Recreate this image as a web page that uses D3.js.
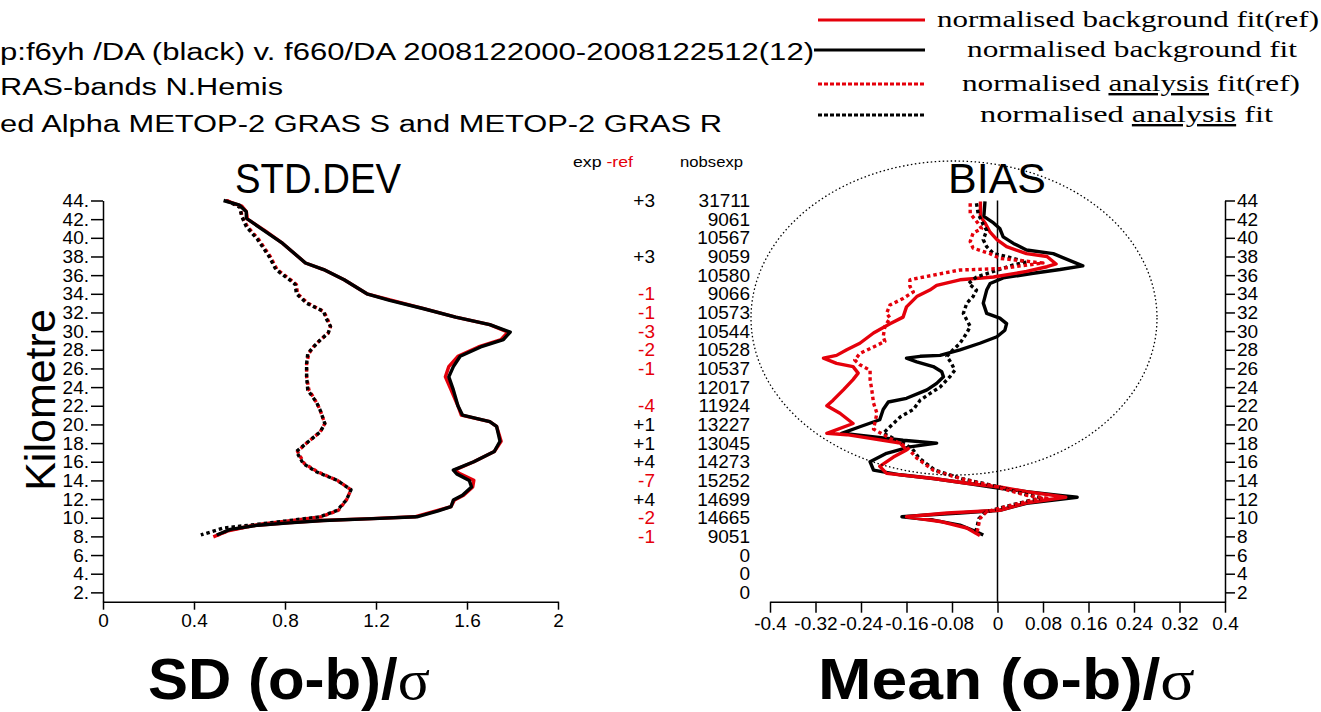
<!DOCTYPE html>
<html><head><meta charset="utf-8">
<script src="https://cdn.jsdelivr.net/npm/d3@7"></script>
<style>
html,body{margin:0;padding:0;background:#fff;overflow:hidden;}
svg{display:block;}
.ax .tick text{font-family:"Liberation Sans Narrow","Liberation Sans",Arial,sans-serif;font-size:19px;fill:#000;}
.ax .tick line,.ax .domain{stroke:#000;stroke-width:1.5px;}
</style></head><body>
<svg id="c" width="1321" height="712"></svg>
<script>
// ---------------- data ----------------
const kmTicks = [2,4,6,8,10,12,14,16,18,20,22,24,26,28,30,32,34,36,38,40,42,44];
const sdTicks = [0,0.4,0.8,1.2,1.6,2];
const biasTicks = [-0.4,-0.32,-0.24,-0.16,-0.08,0,0.08,0.16,0.24,0.32,0.4];

// [value, km]
const sdBgExp = [[0.53,44.0],[0.60,43.5],[0.63,42.8],[0.63,42.1],[0.70,40.9],[0.79,39.4],[0.89,37.3],[0.97,36.6],[1.06,35.5],[1.16,34.0],[1.26,33.3],[1.41,32.4],[1.55,31.5],[1.70,30.7],[1.79,29.9],[1.76,29.1],[1.66,28.3],[1.57,27.3],[1.54,26.2],[1.52,25.1],[1.54,23.7],[1.56,22.0],[1.58,21.0],[1.70,20.3],[1.73,19.8],[1.745,18.2],[1.72,17.1],[1.63,16.0],[1.54,15.1],[1.555,14.7],[1.61,14.0],[1.62,13.3],[1.58,12.4],[1.54,11.9],[1.53,11.2],[1.47,10.7],[1.38,10.1],[1.19,9.9],[0.97,9.7],[0.82,9.45],[0.68,9.2],[0.56,8.75],[0.50,8.15]];
const sdBgRef = [[0.54,44.0],[0.61,43.4],[0.63,42.8],[0.635,42.0],[0.71,40.8],[0.79,39.4],[0.89,37.3],[0.97,36.6],[1.06,35.5],[1.16,34.0],[1.27,33.3],[1.41,32.4],[1.55,31.5],[1.70,30.7],[1.78,29.9],[1.75,29.1],[1.65,28.3],[1.56,27.3],[1.52,26.2],[1.505,25.1],[1.53,23.7],[1.56,22.0],[1.575,21.0],[1.70,20.3],[1.73,19.8],[1.75,18.2],[1.72,17.1],[1.63,16.0],[1.545,15.1],[1.57,14.7],[1.63,14.0],[1.625,13.3],[1.585,12.4],[1.545,11.9],[1.53,11.2],[1.46,10.7],[1.37,10.1],[1.18,9.9],[0.96,9.7],[0.81,9.45],[0.66,9.15],[0.55,8.6],[0.485,7.95]];
const sdAnExp = [[0.54,44.0],[0.60,43.3],[0.61,42.3],[0.63,41.2],[0.68,39.8],[0.73,38.0],[0.76,36.6],[0.82,35.5],[0.845,35.0],[0.85,34.0],[0.895,33.0],[0.97,32.1],[0.98,31.4],[1.00,30.5],[0.99,29.8],[0.955,29.05],[0.925,28.3],[0.90,27.6],[0.895,26.5],[0.895,25.1],[0.90,23.7],[0.94,22.3],[0.955,21.5],[0.975,20.1],[0.955,19.2],[0.895,18.0],[0.85,17.1],[0.88,15.8],[0.94,14.9],[1.03,14.0],[1.09,13.0],[1.07,11.9],[1.03,10.8],[0.955,10.1],[0.82,9.7],[0.68,9.3],[0.53,8.9],[0.43,8.15]];
const sdAnRef = [[0.545,44.0],[0.605,43.3],[0.61,42.3],[0.635,41.2],[0.685,39.8],[0.735,38.0],[0.765,36.6],[0.825,35.5],[0.85,35.0],[0.855,34.0],[0.90,33.0],[0.97,32.1],[0.985,31.4],[1.00,30.5],[0.99,29.8],[0.955,29.05],[0.925,28.3],[0.905,27.6],[0.895,26.5],[0.895,25.1],[0.905,23.7],[0.94,22.3],[0.955,21.5],[0.975,20.1],[0.955,19.2],[0.895,18.0],[0.855,17.1],[0.885,15.8],[0.945,14.9],[1.03,14.0],[1.09,13.0],[1.07,11.9],[1.035,10.8],[0.96,10.1],[0.83,9.7],[0.69,9.3],[0.56,8.7],[0.49,8.0]];

const biasBgExp = [[-0.022,43.9],[-0.024,42.3],[-0.007,41.6],[0.004,41.0],[0.010,40.1],[0.028,39.4],[0.051,38.7],[0.098,38.3],[0.150,37.0],[0.110,36.6],[0.063,36.2],[0.010,35.7],[-0.013,35.1],[-0.019,34.4],[-0.025,33.0],[-0.019,31.9],[0.004,31.4],[0.016,30.8],[0.013,30.1],[-0.001,29.4],[-0.031,28.7],[-0.066,28.0],[-0.101,27.4],[-0.136,27.3],[-0.160,27.1],[-0.142,26.7],[-0.113,26.2],[-0.098,25.65],[-0.095,25.1],[-0.107,24.4],[-0.124,23.7],[-0.160,22.8],[-0.192,22.4],[-0.201,21.6],[-0.207,20.5],[-0.242,19.75],[-0.274,19.05],[-0.224,18.7],[-0.166,18.3],[-0.107,18.0],[-0.154,17.6],[-0.195,16.9],[-0.224,16.0],[-0.218,15.1],[-0.171,14.6],[-0.113,14.2],[-0.054,13.7],[0.004,13.15],[0.051,12.8],[0.110,12.4],[0.140,12.2],[0.051,11.55],[0.004,10.8],[-0.066,10.5],[-0.124,10.3],[-0.168,10.1],[-0.113,9.75],[-0.066,9.2],[-0.037,8.5],[-0.025,8.15]];
const biasBgRef = [[-0.030,43.9],[-0.030,42.3],[-0.022,41.6],[-0.013,40.6],[-0.001,39.8],[0.016,39.05],[0.051,38.3],[0.087,38.0],[0.103,37.2],[0.087,36.9],[0.051,36.4],[-0.007,35.8],[-0.066,35.5],[-0.107,34.9],[-0.119,34.4],[-0.142,33.7],[-0.160,32.6],[-0.166,31.5],[-0.189,30.8],[-0.218,29.8],[-0.242,28.7],[-0.265,28.0],[-0.283,27.4],[-0.306,27.1],[-0.283,26.55],[-0.254,26.2],[-0.245,25.5],[-0.254,24.8],[-0.271,23.7],[-0.289,22.6],[-0.300,22.0],[-0.277,21.2],[-0.254,20.1],[-0.300,19.05],[-0.265,18.9],[-0.171,18.0],[-0.160,17.25],[-0.183,16.5],[-0.207,15.5],[-0.195,14.75],[-0.113,14.2],[-0.054,13.7],[0.004,13.3],[0.051,12.8],[0.098,12.4],[0.120,12.2],[0.051,11.6],[0.004,10.8],[-0.089,10.5],[-0.160,10.1],[-0.101,9.6],[-0.054,8.9],[-0.031,8.1]];
const biasAnRef = [[-0.048,43.7],[-0.048,42.6],[-0.034,41.55],[-0.028,41.0],[-0.043,40.5],[-0.048,39.6],[-0.043,38.9],[-0.013,38.3],[0.004,37.8],[0.080,37.3],[0.004,36.7],[-0.066,36.55],[-0.113,36.0],[-0.154,35.5],[-0.154,34.8],[-0.148,34.2],[-0.166,33.5],[-0.189,32.8],[-0.195,31.9],[-0.189,31.4],[-0.198,30.5],[-0.201,29.4],[-0.198,28.9],[-0.218,28.3],[-0.242,27.6],[-0.251,26.9],[-0.242,26.4],[-0.224,25.8],[-0.224,24.8],[-0.221,23.7],[-0.218,22.3],[-0.212,21.2],[-0.218,19.5],[-0.195,18.7],[-0.160,17.6],[-0.142,16.4],[-0.113,15.1],[-0.066,14.2],[-0.007,13.4],[0.051,12.4],[0.087,12.1],[0.063,11.9],[0.016,11.2],[-0.019,10.65],[-0.031,9.9],[-0.034,9.0],[-0.037,8.15]];
const biasAnExp = [[-0.037,43.7],[-0.034,42.6],[-0.025,41.4],[-0.019,40.8],[-0.025,39.8],[-0.019,39.05],[-0.007,38.3],[0.016,38.0],[0.051,37.4],[0.028,37.1],[-0.007,36.4],[-0.037,35.8],[-0.051,35.1],[-0.037,34.4],[-0.043,33.7],[-0.054,33.0],[-0.060,31.9],[-0.054,31.2],[-0.048,30.5],[-0.054,29.8],[-0.066,28.7],[-0.078,28.0],[-0.089,27.3],[-0.081,26.55],[-0.075,25.8],[-0.084,25.1],[-0.101,24.0],[-0.119,23.3],[-0.136,22.6],[-0.148,21.6],[-0.171,20.8],[-0.189,19.75],[-0.201,19.05],[-0.166,18.0],[-0.150,17.4],[-0.138,16.4],[-0.110,15.1],[-0.063,14.2],[-0.005,13.4],[0.050,12.5],[0.080,12.1],[0.060,11.9],[0.014,11.2],[-0.021,10.6],[-0.033,9.9],[-0.036,9.0],[-0.040,8.2]];

const rowKm = [44,42,40,38,36,34,32,30,28,26,24,22,20,18,16,14,12,10,8,6,4,2];
const nobsExp = [31711,9061,10567,9059,10580,9066,10573,10544,10528,10537,12017,11924,13227,13045,14273,15252,14699,14665,9051,0,0,0];
const expMinusRef = ["+3","","","+3","","-1","-1","-3","-2","-1","","-4","+1","+1","+4","-7","+4","-2","-1","","",""];

const legendLabels = ["normalised background fit(ref)","normalised background fit","normalised analysis fit(ref)","normalised analysis fit"];
const headerLines = ["p:f6yh /DA (black)  v. f660/DA 2008122000-2008122512(12)","RAS-bands  N.Hemis","ed Alpha METOP-2 GRAS S and METOP-2 GRAS R"];

// ---------------- drawing ----------------
const RED = "#e5000b";
const svg = d3.select("#c");
const sans = "'Liberation Sans',Arial,Helvetica,sans-serif";
const narrow = "'Liberation Sans Narrow','Liberation Sans',Arial,sans-serif";
const serif = "'Liberation Serif','Times New Roman',serif";

const yKm = d3.scaleLinear().domain([1,44]).range([601.7,200.5]);
const xSD = d3.scaleLinear().domain([0,2]).range([103,558]);
const xB = d3.scaleLinear().domain([-0.4,0.4]).range([770,1225]);

// header text
const hdr = [{x:0,y:60,w:814},{x:0,y:95,w:283},{x:0,y:132,w:722}];
headerLines.forEach((t,i)=>{
  svg.append("text").attr("x",hdr[i].x).attr("y",hdr[i].y)
    .attr("font-family",sans).attr("font-size",23)
    .attr("textLength",hdr[i].w).attr("lengthAdjust","spacingAndGlyphs").text(t);
});

// legend
const lg = [{y:20,c:RED,dash:null,tx:937,tw:382},{y:50,c:"#000",dash:null,tx:967,tw:330},{y:84,c:RED,dash:"4,2",tx:962,tw:338},{y:115,c:"#000",dash:"4,2",tx:980,tw:293}];
legendLabels.forEach((t,i)=>{
  const L = lg[i];
  const ln = svg.append("line").attr("x1",i===1?814:818).attr("x2",925).attr("y1",L.y).attr("y2",L.y)
    .attr("stroke",L.c).attr("stroke-width",3.2);
  if (L.dash) ln.attr("stroke-dasharray",L.dash);
  const tx = svg.append("text").attr("x",L.tx).attr("y",L.y+7)
    .attr("font-family",serif).attr("font-size",24)
    .attr("textLength",L.tw).attr("lengthAdjust","spacingAndGlyphs");
  if (t.indexOf("analysis")>=0){
    const parts = t.split("analysis");
    tx.append("tspan").text(parts[0]);
    tx.append("tspan").attr("text-decoration","underline").text("analysis");
    tx.append("tspan").text(parts[1]);
  } else tx.text(t);
});

// ---- left panel: STD.DEV ----
svg.append("g").attr("class","ax").attr("transform","translate(103,0)")
  .call(d3.axisLeft(yKm).tickValues(kmTicks).tickFormat(d=>d+".").tickSize(12).tickPadding(2).tickSizeOuter(0));
svg.append("g").attr("class","ax").attr("transform","translate(0,601.7)")
  .call(d3.axisBottom(xSD).tickValues(sdTicks).tickFormat(d=>String(d)).tickSize(8).tickPadding(4).tickSizeOuter(0));

const lineSD = d3.line().x(d=>xSD(d[0])).y(d=>yKm(d[1]));
function drawSeries(data, gen, color, dotted){
  const p = svg.append("path").datum(data).attr("d",gen).attr("fill","none")
    .attr("stroke",color).attr("stroke-width",3.4).attr("stroke-linejoin","round");
  if (dotted) p.attr("stroke-dasharray","3.5,3");
}
drawSeries(sdAnRef, lineSD, RED, true);
drawSeries(sdAnExp, lineSD, "#000", true);
drawSeries(sdBgRef, lineSD, RED, false);
drawSeries(sdBgExp, lineSD, "#000", false);

svg.append("text").attr("transform","translate(55,400) rotate(-90)").attr("text-anchor","middle")
  .attr("font-family",sans).attr("font-size",43).text("Kilometre");
svg.append("text").attr("x",318).attr("y",193).attr("text-anchor","middle")
  .attr("font-family",sans).attr("font-size",42).attr("textLength",166).attr("lengthAdjust","spacingAndGlyphs").text("STD.DEV");

// ---- middle columns ----
const hd = svg.append("text").attr("x",573).attr("y",167).attr("font-family",sans).attr("font-size",15)
  .attr("textLength",60).attr("lengthAdjust","spacingAndGlyphs");
hd.append("tspan").text("exp ");
hd.append("tspan").attr("fill",RED).text("-ref");
svg.append("text").attr("x",680).attr("y",167).attr("font-family",sans).attr("font-size",15)
  .attr("textLength",63).attr("lengthAdjust","spacingAndGlyphs").text("nobsexp");

svg.append("g").selectAll("text").data(rowKm).join("text")
  .attr("x",750).attr("y",d=>yKm(d)+6.5).attr("text-anchor","end")
  .attr("font-family",narrow).attr("font-size",19)
  .text((d,i)=>nobsExp[i]);
svg.append("g").selectAll("text").data(rowKm).join("text")
  .attr("x",655).attr("y",d=>yKm(d)+6.5).attr("text-anchor","end")
  .attr("font-family",narrow).attr("font-size",19)
  .attr("fill",(d,i)=>expMinusRef[i].charAt(0)==="-"?RED:"#000")
  .text((d,i)=>expMinusRef[i]);

// ---- right panel: BIAS ----
svg.append("g").attr("class","ax").attr("transform","translate(0,601.7)")
  .call(d3.axisBottom(xB).tickValues(biasTicks).tickFormat(d=>String(d)).tickSize(11).tickPadding(4).tickSizeOuter(0));
svg.append("g").attr("class","ax").attr("transform","translate(1225,0)")
  .call(d3.axisRight(yKm).tickValues(kmTicks).tickFormat(d=>String(d)).tickSize(10).tickPadding(2).tickSizeOuter(0));
svg.append("line").attr("x1",xB(0)).attr("x2",xB(0)).attr("y1",yKm(44)).attr("y2",yKm(1))
  .attr("stroke","#000").attr("stroke-width",1.5);

const lineB = d3.line().x(d=>xB(d[0])).y(d=>yKm(d[1]));
drawSeries(biasBgExp, lineB, "#000", false);
drawSeries(biasBgRef, lineB, RED, false);
drawSeries(biasAnExp, lineB, "#000", true);
drawSeries(biasAnRef, lineB, RED, true);

svg.append("text").attr("x",997).attr("y",193).attr("text-anchor","middle")
  .attr("font-family",sans).attr("font-size",42).attr("textLength",98).attr("lengthAdjust","spacingAndGlyphs").text("BIAS");

svg.append("ellipse").attr("cx",954).attr("cy",318).attr("rx",203).attr("ry",157)
  .attr("fill","none").attr("stroke","#000").attr("stroke-width",1.3).attr("stroke-dasharray","1.5,2.5");

// ---- bottom titles ----
function bigTitle(x,y,w,t){
  const tt = svg.append("text").attr("x",x).attr("y",y).attr("font-family",sans).attr("font-weight","bold")
    .attr("font-size",58).attr("textLength",w).attr("lengthAdjust","spacingAndGlyphs");
  tt.append("tspan").text(t);
  tt.append("tspan").attr("font-family",serif).attr("font-weight","normal").text("σ");
}
bigTitle(148,699,282,"SD (o-b)/");
bigTitle(818,699,377,"Mean (o-b)/");
</script>
</body></html>
